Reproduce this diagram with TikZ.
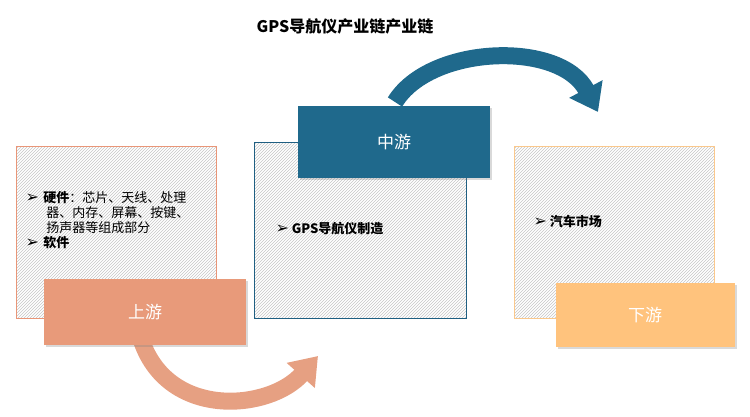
\documentclass[tikz,border=0pt]{standalone}
\usepackage{fontspec}
\newfontfamily\cjk{Noto Sans CJK SC}
\newfontfamily\dv{DejaVu Sans}
\newcommand{\bul}{{\dv\fontsize{16}{12}\selectfont ➢}}
\usetikzlibrary{patterns,arrows.meta,shadows}
\begin{document}
\begin{tikzpicture}[x=1pt,y=-1pt,
  outer/.style={draw, line width=1pt, pattern=north east lines, pattern color=gray!45},
  lab/.style={font=\cjk\fontsize{17}{20}\selectfont, text=white, drop shadow={opacity=0.3}},
  item/.style={font=\cjk\fontsize{13}{15}\selectfont, anchor=north west, align=left}]
\useasboundingbox (0,0) rectangle (750,417);
\node[font=\cjk\bfseries\fontsize{16}{18}\selectfont] (title) at (345,26) {GPS导航仪产业链产业链};
% arrows
\draw[line width=17pt, color={rgb,255:red,230;green,160;blue,130}, -{Triangle[length=26pt,width=36pt]}] (142,342) .. controls (170,420) and (270,410) .. (318,356);
\draw[line width=17pt, color={rgb,255:red,31;green,105;blue,140}, -{Triangle[length=26pt,width=36pt]}] (395,102) .. controls (430,45) and (560,40) .. (598,112);
% boxes
\path[outer, draw={rgb,255:red,233;green,150;blue,120}] (16,147) rectangle (216,318) coordinate (b1);
\path[outer, draw={rgb,255:red,31;green,95;blue,130}] (254,143) rectangle (466,318) coordinate (b2);
\path[outer, draw={rgb,255:red,250;green,200;blue,140}] (514,147) rectangle (714,318) coordinate (b3);
\node[item, text width=190pt] (t1) at (22,188) {\bul\ \textbf{硬件}：芯片、天线、处理\\\hspace*{1.6em}器、内存、屏幕、按键、\\\hspace*{1.6em}扬声器等组成部分\\\bul\ \textbf{软件}};
\node[item] (t2) at (272,219) {\bul\ \textbf{GPS导航仪制造}};
\node[item] (t3) at (530,212) {\bul\ \textbf{汽车市场}};
\node[lab, fill={rgb,255:red,232;green,154;blue,122}, minimum width=202pt, minimum height=66pt] (up) at (145,312) {上游};
\node[lab, fill={rgb,255:red,31;green,105;blue,140}, minimum width=192pt, minimum height=72pt] (mid) at (394,142) {中游};
\node[lab, fill={rgb,255:red,255;green,195;blue,125}, minimum width=179pt, minimum height=64pt] (down) at (645,315) {下游};
\end{tikzpicture}
\end{document}
